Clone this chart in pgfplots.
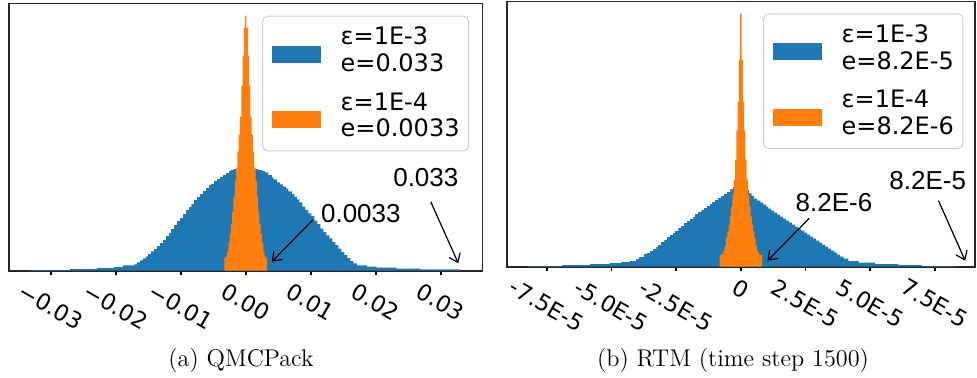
\documentclass[border=0pt]{standalone}
\usepackage{pgfplots}
\pgfplotsset{compat=1.18}
\usepackage{graphicx}
\usepackage{fontspec}
\usetikzlibrary{arrows.meta}
\newfontfamily\dejavu{DejaVu Sans}
\newfontfamily\libsans{Liberation Sans}
\definecolor{tabblue}{HTML}{1F77B4}
\definecolor{taborange}{HTML}{FF7F0E}

\newcommand{\rl}[1]{\rotatebox{-30}{#1}}

\pgfplotsset{
  histo/.style={
    scale only axis, anchor=south west,
    ymin=0, ytick=\empty,
    scaled x ticks=false,
    axis line style={line width=0.8pt, black!85},
    xtick pos=left, tick align=outside, major tick length=2.3pt,
    tick style={line width=0.8pt, black},
    xticklabel style={anchor=north, inner sep=0pt, yshift=-3pt,
      font=\dejavu\fontsize{11.3}{13}\selectfont},
    clip mode=individual,
    legend cell align=left,
    legend image code/.code={
      \fill[##1, draw=none, fill opacity=1, sharp corners] (0pt,-5.9pt) rectangle (24.5pt,2.6pt);},
    legend style={anchor=north east, draw=black!20, line width=0.5pt,
      rounded corners=2.5pt, fill=white, fill opacity=0.8, text opacity=1,
      font=\dejavu\fontsize{12}{13.35}\selectfont,
      cells={align=left}, nodes={inner sep=0pt},
      inner xsep=4.5pt, inner ysep=5.5pt, row sep=9pt, column sep=10pt},
  },
}
\tikzset{
  note/.style={font=\libsans\fontsize{13}{15}\selectfont, anchor=base},
  pointer/.style={-{Straight Barb[length=4pt,width=6pt]}, line width=0.6pt, black},
}

\begin{document}
\begin{tikzpicture}
\path[use as bounding box] (0,0) rectangle (488.5pt,-188.5pt);

% (a) QMCPack: error distributions for two error bounds
\begin{axis}[histo,
  at={(4.65pt,-135.35pt)}, width=236.5pt, height=133.7pt,
  xmin=-0.0364, xmax=0.0364, ymax=267.4,
  xtick={-0.03,-0.02,-0.01,0,0.01,0.02,0.03},
  xticklabels={\rl{−0.03},\rl{−0.02},\rl{−0.01},\rl{0.00},\rl{0.01},\rl{0.02},\rl{0.03}},
  legend style={at={(0.972,0.954)}},
]
\addplot[const plot, fill=tabblue, draw=none] coordinates {
(-0.03303,0.7) (-0.02703,1.7) (-0.02292,2.7) (-0.02026,3.7) (-0.01892,5.3)
(-0.01718,6.3) (-0.01677,8.3) (-0.01626,10.3) (-0.01585,12.3) (-0.01538,14.3)
(-0.01503,16.7) (-0.01457,19.3) (-0.01411,21.7) (-0.01365,24.7) (-0.01318,27.7)
(-0.01272,30.7) (-0.01226,34.7) (-0.01180,37.7) (-0.01149,41.7) (-0.01103,45.7)
(-0.01057,49.7) (-0.01011,52.7) (-0.00965,56.7) (-0.00918,60.7) (-0.00872,63.7)
(-0.00837,66.7) (-0.00795,70.7) (-0.00749,73.7) (-0.00703,76.7) (-0.00657,79.7)
(-0.00611,82.7) (-0.00565,85.7) (-0.00534,86.7) (-0.00488,89.7) (-0.00442,91.7)
(-0.00395,93.7) (-0.00349,95.7) (-0.00303,97.7) (-0.00257,99.7) (-0.00226,100.7)
(-0.00190,101.7) (0.00194,100.7) (0.00246,99.7) (0.00297,98.3) (0.00348,95.7)
(0.00400,93.3) (0.00425,91.3) (0.00477,88.3) (0.00528,86.3) (0.00569,84)
(0.00615,82) (0.00655,79.3) (0.00708,76.7) (0.00748,74) (0.00785,71.3)
(0.00825,68.3) (0.00871,64) (0.00917,60.7) (0.00963,57.3) (0.01009,54.7)
(0.01055,50) (0.01102,46.7) (0.01148,42) (0.01194,38.7) (0.01240,35.3)
(0.01286,32.3) (0.01332,28.7) (0.01378,25.7) (0.01425,22) (0.01471,18.7)
(0.01517,15.7) (0.01563,12.7) (0.01609,9.7) (0.01655,7.3) (0.01708,5.3)
(0.01862,4) (0.02015,3) (0.02323,2) (0.02682,1.3) (0.03297,1.3)
} \closedcycle;
\addlegendentry{ε=1E-3\\e=0.033}
\addplot[const plot, fill=taborange, draw=none] coordinates {
(-0.0033,13) (-0.0031,14) (-0.0029,19) (-0.0027,28) (-0.0025,37)
(-0.0023,47) (-0.0021,59) (-0.0019,74) (-0.0017,90) (-0.0015,103)
(-0.0013,119) (-0.0011,136) (-0.0009,154) (-0.0007,185) (-0.0005,215)
(-0.0003,243) (-0.0001,255) (0.0001,243) (0.0003,215) (0.0005,185)
(0.0007,154) (0.0009,136) (0.0011,119) (0.0013,103) (0.0015,90)
(0.0017,74) (0.0019,59) (0.0021,47) (0.0023,37) (0.0025,28)
(0.0027,19) (0.0029,14) (0.0031,13) (0.0033,13)
} \closedcycle;
\addlegendentry{ε=1E-4\\e=0.0033}
\node[note] at (axis cs:0.01771,48) {0.0033};
\draw[pointer] (axis cs:0.01031,50.7) -- (axis cs:0.0040,9);
\node[note] at (axis cs:0.02771,84) {0.033};
\draw[pointer] (axis cs:0.02846,69) -- (axis cs:0.03271,7.4);
\end{axis}

% (b) RTM, time step 1500 (x in units of 1E-5)
\begin{axis}[histo,
  at={(253.35pt,-133.35pt)}, width=234.15pt, height=132.6pt,
  xmin=-9.05, xmax=9.05, ymax=265.2,
  xtick={-7.5,-5,-2.5,0,2.5,5,7.5},
  xticklabels={\rl{-7.5E-5},\rl{-5.0E-5},\rl{-2.5E-5},\rl{0},\rl{2.5E-5},\rl{5.0E-5},\rl{7.5E-5}},
  legend style={at={(0.975,0.9555)}},
]
\addplot[const plot, fill=tabblue, draw=none] coordinates {
(-8.23,0.7) (-6.92,1.7) (-5.83,2.7) (-5.05,3.7) (-4.63,4.7)
(-4.28,5.7) (-4.05,7.7) (-3.93,9.7) (-3.74,12.7) (-3.62,13.7)
(-3.51,15.7) (-3.39,17.7) (-3.27,19.7) (-3.20,21.7) (-3.08,24.7)
(-2.96,26.7) (-2.85,29.7) (-2.73,31.7) (-2.62,33.7) (-2.54,35.7)
(-2.42,38.7) (-2.31,40.7) (-2.19,43.7) (-2.08,45.7) (-1.96,47.7)
(-1.84,49.7) (-1.77,52.7) (-1.65,54.7) (-1.53,56.7) (-1.42,58.7)
(-1.30,60.7) (-1.19,62.7) (-1.11,64.7) (-0.99,66.7) (-0.88,68.7)
(-0.76,70.7) (-0.65,72.7) (-0.53,74.7) (-0.41,77.7) (-0.30,79.7)
(-0.18,81.7) (0.10,77) (0.32,73.3) (0.42,70.7) (0.51,68)
(0.63,66) (0.75,64) (0.86,62) (0.98,60) (1.06,58)
(1.17,56) (1.29,54) (1.40,52) (1.52,50) (1.63,48)
(1.75,46) (1.87,44) (1.98,42) (2.10,40) (2.21,38)
(2.33,36) (2.45,34) (2.56,32) (2.68,30) (2.79,28)
(2.91,26) (3.03,24) (3.14,22) (3.26,20) (3.37,18)
(3.49,16) (3.61,14) (3.72,12) (3.84,10) (3.97,8)
(4.16,5.7) (4.55,4) (5.19,2.7) (6.09,1.7) (6.99,0.7) (8.28,0.7)
} \closedcycle;
\addlegendentry{ε=1E-3\\e=8.2E-5}
\addplot[const plot, fill=taborange, draw=none] coordinates {
(-0.825,11.7) (-0.775,12) (-0.725,13) (-0.675,16) (-0.625,21)
(-0.575,29) (-0.525,35) (-0.475,42) (-0.425,50) (-0.375,60)
(-0.325,72) (-0.275,87) (-0.225,107) (-0.175,136) (-0.125,165)
(-0.075,207) (-0.025,253) (0.025,207) (0.075,165) (0.125,136)
(0.175,107) (0.225,87) (0.275,72) (0.325,60) (0.375,50)
(0.425,42) (0.475,35) (0.525,29) (0.575,21) (0.625,16)
(0.675,13) (0.725,12) (0.775,11.7) (0.825,11.7)
} \closedcycle;
\addlegendentry{ε=1E-4\\e=8.2E-6}
\node[note] at (axis cs:3.60,55) {8.2E-6};
\draw[pointer] (axis cs:2.64,48.4) -- (axis cs:1.03,6);
\node[note] at (axis cs:7.22,77.7) {8.2E-5};
\draw[pointer] (axis cs:7.64,66) -- (axis cs:8.67,6);
\end{axis}

\node[font=\fontsize{12.1}{14.5}\selectfont] at (120.5pt,-180.2pt) {(a) QMCPack};
\node[font=\fontsize{12.1}{14.5}\selectfont] at (366.5pt,-180.2pt) {(b) RTM (time step 1500)};
\end{tikzpicture}
\end{document}
